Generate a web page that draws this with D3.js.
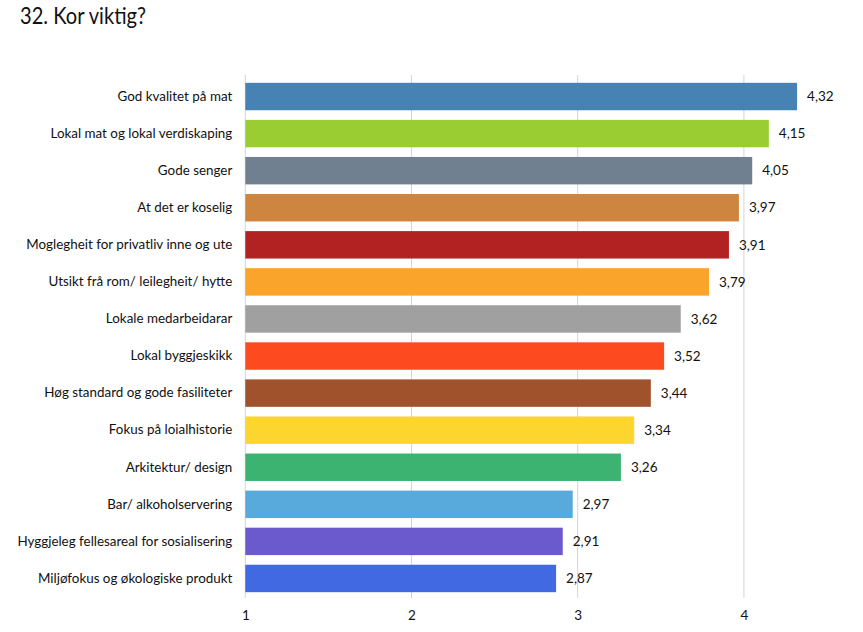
<!DOCTYPE html>
<html>
<head>
<meta charset="utf-8">
<script src="https://cdn.jsdelivr.net/npm/d3@7"></script>
<style>
  body { margin: 0; background: #fff; }
  svg { display: block; }
  text { font-family: Lato, "Open Sans", sans-serif; fill: #111; }
</style>
</head>
<body>
<svg id="chart" width="863" height="632"></svg>
<script>
const categories = [
  "God kvalitet på mat",
  "Lokal mat og lokal verdiskaping",
  "Gode senger",
  "At det er koselig",
  "Moglegheit for privatliv inne og ute",
  "Utsikt frå rom/ leilegheit/ hytte",
  "Lokale medarbeidarar",
  "Lokal byggjeskikk",
  "Høg standard og gode fasiliteter",
  "Fokus på loialhistorie",
  "Arkitektur/ design",
  "Bar/ alkoholservering",
  "Hyggjeleg fellesareal for sosialisering",
  "Miljøfokus og økologiske produkt"
];
const values = [4.32, 4.15, 4.05, 3.97, 3.91, 3.79, 3.62, 3.52, 3.44, 3.34, 3.26, 2.97, 2.91, 2.87];
const colors = ["#4682B4", "#9ACD32", "#708090", "#CD853F", "#B22222", "#FBA42C", "#A0A0A0",
                "#FD4A1F", "#A0522D", "#FDD52F", "#3CB371", "#58AADC", "#6A5ACD", "#4169E1"];
const tickValues = [1, 2, 3, 4];
const title = "32. Kor viktig?";

const svg = d3.select("#chart");

const x = d3.scaleLinear().domain([1, 4]).range([245.3, 743.9]);
const y = d3.scaleBand().domain(categories).range([78, 597]).paddingInner(0.26).paddingOuter(0.13);

svg.append("text")
  .attr("x", 20).attr("y", 24)
  .attr("font-size", 24)
  .attr("textLength", 126)
  .attr("lengthAdjust", "spacingAndGlyphs")
  .text(title);

// gridlines
svg.append("g")
  .selectAll("line")
  .data(tickValues)
  .join("line")
  .attr("x1", d => x(d)).attr("x2", d => x(d))
  .attr("y1", 75).attr("y2", 598)
  .attr("stroke", "#d4d4d4").attr("stroke-width", 1);

// bars
svg.append("g")
  .selectAll("rect")
  .data(values)
  .join("rect")
  .attr("x", x(1))
  .attr("y", (d, i) => y(categories[i]))
  .attr("width", d => x(d) - x(1))
  .attr("height", y.bandwidth())
  .attr("fill", (d, i) => colors[i]);

// value labels
const fmt = d => d.toFixed(2).replace(".", ",");
svg.append("g")
  .selectAll("text")
  .data(values)
  .join("text")
  .attr("x", d => x(d) + 10)
  .attr("y", (d, i) => y(categories[i]) + y.bandwidth() / 2)
  .attr("dy", "0.35em")
  .attr("font-size", 13.5)
  .text(fmt);

// category labels
const yAxis = d3.axisLeft(y).tickSize(0).tickPadding(13);
const gy = svg.append("g").attr("transform", `translate(${x(1)},0)`).call(yAxis);
gy.select(".domain").remove();
gy.selectAll("text").attr("font-size", 13.4).attr("font-family", "Lato, sans-serif").attr("fill", "#111");

// x axis labels
const xAxis = d3.axisBottom(x).tickValues(tickValues).tickSize(0).tickPadding(10).tickFormat(d3.format("d"));
const gx = svg.append("g").attr("transform", "translate(0,600)").call(xAxis);
gx.select(".domain").remove();
gx.selectAll("text").attr("font-size", 13.5).attr("font-family", "Lato, sans-serif").attr("fill", "#111");
</script>
</body>
</html>
